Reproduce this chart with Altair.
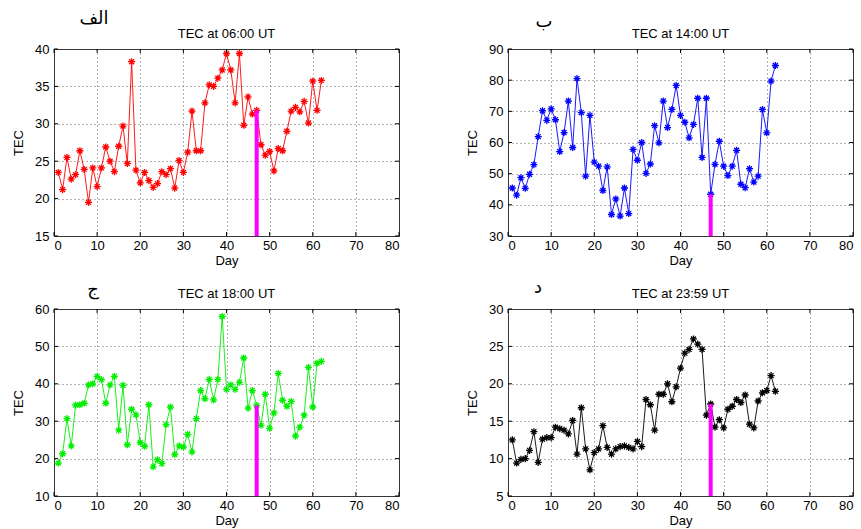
import altair as alt
import pandas as pd

days = list(range(1, 63))

tec_0600 = [23.5, 21.2, 25.5, 22.6, 23.2, 26.4, 23.9, 19.5, 24.1, 21.6,
            24.1, 26.9, 25.0, 23.6, 27.0, 29.7, 24.7, 38.3, 23.8, 22.1,
            23.5, 22.4, 21.5, 22.0, 23.6, 23.2, 24.0, 21.4, 25.1, 23.5,
            26.2, 31.7, 26.4, 26.4, 32.8, 35.2, 35.0, 36.1, 37.2, 39.4,
            37.2, 32.8, 39.4, 29.8, 33.6, 31.3, 31.8, 27.2, 25.8, 26.3,
            23.7, 26.7, 26.4, 29.0, 31.7, 32.2, 31.6, 33.0, 30.1, 35.7,
            31.8, 35.8]

tec_1400 = [45.4, 43.1, 48.7, 45.3, 49.8, 52.9, 61.9, 70.2, 67.1, 70.8,
            67.3, 57.1, 63.2, 73.3, 58.4, 80.5, 69.6, 49.2, 68.7, 53.7,
            52.4, 44.6, 52.2, 36.9, 41.9, 36.4, 45.4, 37.2, 57.8, 54.3,
            60.0, 50.1, 53.1, 65.4, 59.9, 73.3, 64.8, 70.6, 78.3, 68.7,
            66.5, 61.5, 65.8, 74.2, 55.2, 74.2, 43.4, 53.0, 60.4, 52.4,
            49.4, 52.4, 57.5, 46.6, 45.5, 51.6, 47.3, 49.2, 70.6, 63.1,
            79.7, 84.7]

tec_1800 = [18.8, 21.3, 30.7, 23.4, 34.3, 34.4, 34.8, 39.7, 40.0, 42.0,
            41.1, 34.8, 39.7, 42.0, 27.6, 39.6, 23.7, 33.2, 31.7, 24.3,
            23.3, 34.4, 17.8, 19.7, 18.7, 29.1, 33.8, 21.1, 23.4, 23.1,
            26.5, 21.8, 30.7, 38.2, 36.0, 41.2, 35.7, 41.2, 58.0, 38.5,
            39.7, 38.5, 40.4, 46.9, 33.5, 38.2, 34.2, 28.9, 37.2, 28.1,
            32.2, 42.8, 35.6, 34.0, 35.3, 26.0, 28.4, 31.6, 44.4, 33.8,
            45.5, 46.0]

tec_2359 = [12.5, 9.4, 9.9, 10.0, 11.1, 13.6, 9.5, 12.6, 12.8, 12.8,
            14.2, 14.0, 13.8, 13.3, 15.1, 10.6, 16.8, 11.3, 8.5, 10.8,
            11.3, 14.4, 11.5, 10.6, 11.3, 11.6, 11.7, 11.5, 11.3, 12.3,
            11.6, 17.9, 17.2, 13.8, 18.6, 18.6, 20.0, 17.6, 19.6, 22.1,
            24.1, 24.6, 26.0, 25.3, 24.6, 15.8, 17.3, 14.2, 15.2, 14.1,
            16.6, 17.0, 17.9, 17.5, 18.5, 14.6, 14.1, 17.7, 18.8, 19.1,
            21.1, 19.0]

titles = ["TEC at 06:00 UT", "TEC at 14:00 UT", "TEC at 18:00 UT", "TEC at 23:59 UT"]
letters = ["الف", "ب", "ج", "د"]
colors = ["#ff0000", "#0000ff", "#00ee00", "#000000"]
y_ticks = [[15, 20, 25, 30, 35, 40],
           [30, 40, 50, 60, 70, 80, 90],
           [10, 20, 30, 40, 50, 60],
           [5, 10, 15, 20, 25, 30]]
event_day = 47
x_ticks = [0, 10, 20, 30, 40, 50, 60, 70, 80]

STAR = "M-1,0L1,0M0,-1L0,1M-0.7,-0.7L0.7,0.7M-0.7,0.7L0.7,-0.7"

W, H = 345, 187
letter_pos = [(40, -30), (36, -27), (39, -19), (30, -21)]


def panel(i, vals):
    yt = y_ticks[i]
    ymin, ymax = yt[0], yt[-1]
    xmin, xmax = x_ticks[0], x_ticks[-1]
    df = pd.DataFrame({"Day": days, "TEC": vals})
    ev = pd.DataFrame({"Day": [event_day], "TEC": [ymin],
                       "TEC2": [vals[days.index(event_day)]]})
    xs = alt.Scale(domain=[xmin, xmax], nice=False)
    ys = alt.Scale(domain=[ymin, ymax], nice=False, zero=False)
    x = alt.X("Day:Q", scale=xs,
              axis=alt.Axis(values=x_ticks, title="Day", format="d",
                            labelOverlap=False))
    y = alt.Y("TEC:Q", scale=ys,
              axis=alt.Axis(values=yt, title="TEC", format="d",
                            labelOverlap=False))
    line = alt.Chart(df).mark_line(color=colors[i], strokeWidth=0.9).encode(x=x, y=y)
    pts = alt.Chart(df).mark_point(shape=STAR, size=50, color=colors[i],
                                   strokeWidth=1.3, filled=False,
                                   opacity=1).encode(x=x, y=y)
    mag = alt.Chart(ev).mark_rule(color="#ff00ff", strokeWidth=4).encode(
        x=x, y=y, y2="TEC2:Q")

    # inward tick marks on the four sides of the box
    bx = pd.DataFrame({"Day": x_ticks, "TEC": [ymin] * len(x_ticks)})
    tx = pd.DataFrame({"Day": x_ticks, "TEC": [ymax] * len(x_ticks)})
    ly_ = pd.DataFrame({"Day": [xmin] * len(yt), "TEC": yt})
    ry_ = pd.DataFrame({"Day": [xmax] * len(yt), "TEC": yt})
    tk = dict(color="#000", size=4, thickness=1, opacity=1)
    t1 = alt.Chart(bx).mark_tick(orient="vertical", yOffset=-2, **tk).encode(x=x, y=y)
    t2 = alt.Chart(tx).mark_tick(orient="vertical", yOffset=2, **tk).encode(x=x, y=y)
    t3 = alt.Chart(ly_).mark_tick(orient="horizontal", xOffset=2, **tk).encode(x=x, y=y)
    t4 = alt.Chart(ry_).mark_tick(orient="horizontal", xOffset=-2, **tk).encode(x=x, y=y)

    lx, lyv = letter_pos[i]
    txt = alt.Chart(pd.DataFrame({"t": [letters[i]]})).mark_text(
        font="DejaVu Sans", fontSize=18, color="#000", align="center",
        baseline="middle").encode(text="t:N", x=alt.value(lx), y=alt.value(lyv))
    ttl = alt.Chart(pd.DataFrame({"t": [titles[i]]})).mark_text(
        font="Liberation Sans", fontSize=13, color="#000", align="center",
        baseline="middle").encode(text="t:N", x=alt.value(W / 2), y=alt.value(-15))
    return alt.layer(line, pts, mag, t1, t2, t3, t4, txt, ttl).properties(
        width=W, height=H)


charts = [panel(0, tec_0600), panel(1, tec_1400), panel(2, tec_1800), panel(3, tec_2359)]

chart = alt.concat(*charts, columns=2, spacing={"row": 73, "column": 109},
                   bounds="flush").configure(
    padding={"left": 12, "top": 9, "right": 0, "bottom": 0},
    background="white"
).configure_axis(
    labelFont="Liberation Sans", labelFontSize=13, labelColor="#000",
    titleFont="Liberation Sans", titleFontSize=13, titleColor="#000",
    titleFontWeight="normal", grid=True, gridColor="#444", gridDash=[1, 3],
    gridWidth=1, gridOpacity=0.8, domain=False, ticks=False, tickSize=0,
    labelPadding=4, labelOverlap=False
).configure_axisY(titlePadding=9, labelPadding=5).configure_axisX(
    titlePadding=2, labelPadding=3).configure_view(
    stroke="#333", strokeWidth=1
)

chart.save("out.html", embed_options={"renderer": "svg", "actions": False})
